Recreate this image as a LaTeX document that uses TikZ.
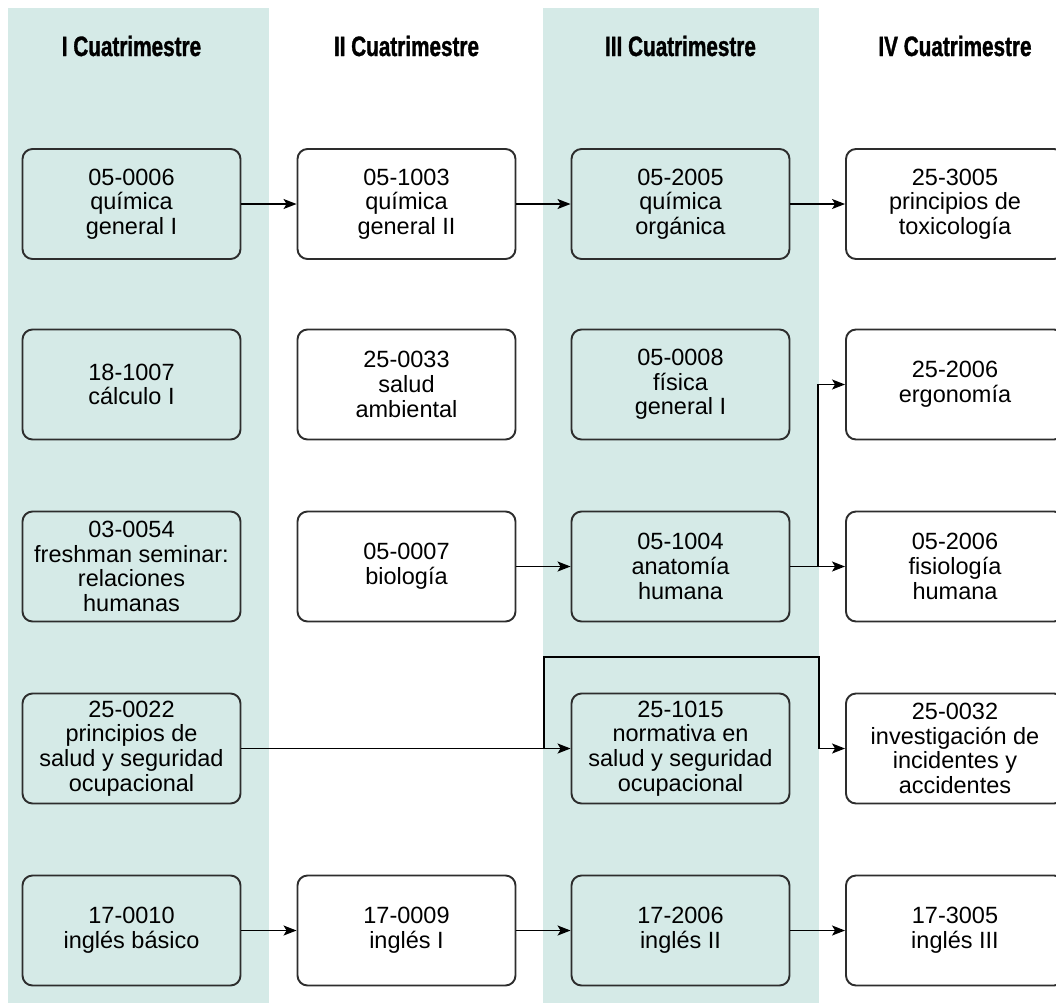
\documentclass[tikz,border=0pt]{standalone}
\usepackage{fontspec}
\setmainfont{Liberation Sans}
\newfontfamily\headfont[FakeStretch=0.74,FakeBold=1.2]{Liberation Sans}
\usetikzlibrary{arrows.meta}
\definecolor{bandteal}{RGB}{213,234,231}
\definecolor{boxline}{RGB}{45,45,45}

\begin{document}
\begin{tikzpicture}[x=0.5pt,y=-0.5pt,
    course/.style={draw=boxline,line width=0.95pt,rounded corners=5pt,minimum width=109pt,minimum height=55pt,inner sep=0pt,align=center,text=black,font=\fontsize{11.75}{12.35}\selectfont},
    shaded/.style={course,fill=bandteal},
    plain/.style={course,fill=white},
    head/.style={text=black,font=\headfont\bfseries\fontsize{14}{16}\selectfont},
    link/.style={-{Stealth[length=6.5pt,width=5pt,inset=1.5pt]},line width=0.7pt}]
    \clip (0,0) rectangle (1056,1003);
    \fill[bandteal] (8,8) rectangle (269,1003);
    \fill[bandteal] (543,8) rectangle (819,1003);

    \node[head] (h1) at (131.5,46) {I Cuatrimestre};
    \node[head] (h2) at (406.5,46) {II Cuatrimestre};
    \node[head] (h3) at (680.5,46) {III Cuatrimestre};
    \node[head] (h4) at (955,46) {IV Cuatrimestre};

    \node[shaded] (a1) at (131.5,204) {05-0006\\química\\general I};
    \node[plain] (b1) at (406.5,204) {05-1003\\química\\general II};
    \node[shaded] (c1) at (680.5,204) {05-2005\\química\\orgánica};
    \node[plain] (d1) at (955,204) {25-3005\\principios de\\toxicología};

    \node[shaded] (a2) at (131.5,384.5) {18-1007\\cálculo I};
    \node[plain] (b2) at (406.5,384.5) {25-0033\\salud\\ambiental};
    \node[shaded] (c2) at (680.5,384.5) {05-0008\\física\\general I};
    \node[plain] (d2) at (955,384.5) {25-2006\\ergonomía};

    \node[shaded] (a3) at (131.5,566.5) {03-0054\\freshman seminar:\\relaciones\\humanas};
    \node[plain] (b3) at (406.5,566.5) {05-0007\\biología};
    \node[shaded] (c3) at (680.5,566.5) {05-1004\\anatomía\\humana};
    \node[plain] (d3) at (955,566.5) {05-2006\\fisiología\\humana};

    \node[shaded] (a4) at (131.5,748.5) {25-0022\\principios de\\salud y seguridad\\ocupacional};
    \node[shaded] (c4) at (680.5,748.5) {25-1015\\normativa en\\salud y seguridad\\ocupacional};
    \node[plain] (d4) at (955,748.5) {25-0032\\investigación de\\incidentes y\\accidentes};

    \node[shaded] (a5) at (131.5,930.5) {17-0010\\inglés básico};
    \node[plain] (b5) at (406.5,930.5) {17-0009\\inglés I};
    \node[shaded] (c5) at (680.5,930.5) {17-2006\\inglés II};
    \node[plain] (d5) at (955,930.5) {17-3005\\inglés III};

    \coordinate (j3) at (818,566.5);
    \coordinate (j4) at (544,748.5);
    \coordinate (t4) at (819,657);

    \draw[link] (a1) -- (b1);
    \draw[link] (b1) -- (c1);
    \draw[link] (c1) -- (d1);
    \draw[link] (b3) -- (c3);
    \draw[link] (c3) -- (d3);
    \draw[link] (j3) |- (d2.west);
    \draw[link] (a4) -- (c4);
    \draw[link] (j4) |- (t4) |- (d4.west);
    \draw[link] (a5) -- (b5);
    \draw[link] (b5) -- (c5);
    \draw[link] (c5) -- (d5);
\end{tikzpicture}
\end{document}
